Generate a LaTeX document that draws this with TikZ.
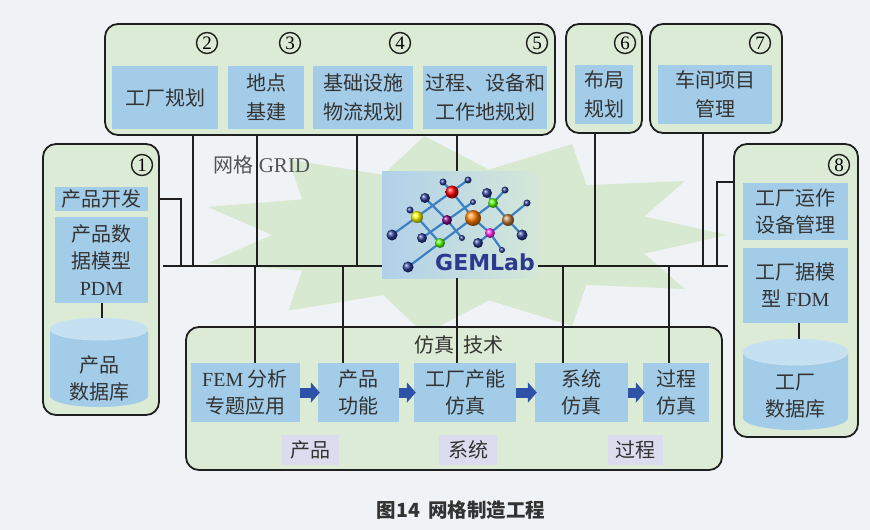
\documentclass[tikz,border=0pt]{standalone}
\usepackage{fontspec}
\setmainfont{Liberation Serif}
\newfontfamily\cjk{Noto Sans CJK SC}
\newfontfamily\logofont{DejaVu Sans}
\usetikzlibrary{arrows.meta}

\definecolor{bgc}{HTML}{F0F3F5}
\definecolor{panel}{HTML}{DCEBD5}
\definecolor{cellblue}{HTML}{A3CCE8}
\definecolor{celltop}{HTML}{C4E0F1}
\definecolor{lav}{HTML}{DCDCEF}
\definecolor{ink}{HTML}{333333}
\definecolor{wire}{HTML}{1F1F1F}
\definecolor{flow}{HTML}{2E52A8}
\definecolor{burst}{HTML}{D8E9D2}
\definecolor{stickc}{HTML}{3E80C2}
\definecolor{navy}{HTML}{2A3A95}
\definecolor{gemtext}{HTML}{2B3A8E}

\begin{document}
\begin{tikzpicture}[x=1pt,y=-1pt,
  wire/.style={draw=wire,line width=1.6pt},
  panelbox/.style={draw=wire,line width=1.8pt,fill=panel,rounded corners=13pt,inner sep=0pt},
  cell/.style={fill=cellblue,inner sep=1pt,align=center,text=ink,font=\cjk\fontsize{20}{27}\selectfont},
  topcell/.style={cell,font=\cjk\fontsize{20}{29}\selectfont,minimum height=63},
  simcell/.style={cell,minimum height=59},
  tag/.style={fill=lav,inner sep=0pt,text=ink,font=\cjk\fontsize{20}{27}\selectfont,minimum height=30},
  numring/.style={circle,draw=wire,line width=1.4pt,inner sep=0pt,minimum size=21,font=\rmfamily\fontsize{19}{19}\selectfont},
  flowarrow/.style={draw=flow,line width=10pt,-{Triangle[length=9pt,width=20pt]}},
  stick/.style={draw=stickc,line width=2.2pt,line cap=round},
  orb/.style={circle,inner sep=0pt,shading=ball,ball color=#1},
  label/.style={text=ink,inner sep=1pt,align=center,font=\cjk\fontsize{20}{27}\selectfont},
]
% canvas
\useasboundingbox (0,0) rectangle (870,530);
\fill[bgc] (0,0) rectangle (870,530);

% green starburst behind the grid
\begin{scope}[shift={(462,235)}]
\fill[burst] (0:265 and 100)
  \foreach \i [evaluate=\i as \rx using {mod(\i,2)==0 ? 265 : 190},
               evaluate=\i as \ry using {mod(\i,2)==0 ? 100 : 66},
               evaluate=\i as \a using {\i*360/22}] in {1,...,21} { -- ({\a}:{\rx} and {\ry}) } -- cycle;
\end{scope}

% panels
\node[panelbox,minimum width=450,minimum height=111] (top) at (330,79.5) {};
\node[panelbox,minimum width=76,minimum height=109] (p6) at (604,78.5) {};
\node[panelbox,minimum width=132,minimum height=109] (p7) at (716,78.5) {};
\node[panelbox,minimum width=116,minimum height=271] (p1) at (101,279.5) {};
\node[panelbox,minimum width=124,minimum height=293] (p8) at (796,290.5) {};
\node[panelbox,minimum width=536,minimum height=143] (sim) at (454,398.5) {};

% circled numbers
\node[numring] (n1) at (142,165) {1};
\node[numring] (n2) at (207,43) {2};
\node[numring] (n3) at (290,43) {3};
\node[numring] (n4) at (400,43) {4};
\node[numring] (n5) at (537,43) {5};
\node[numring] (n6) at (625,43) {6};
\node[numring] (n7) at (760,43) {7};
\node[numring] (n8) at (839,165) {8};

% planning cells
\node[topcell,minimum width=106] (c2) at (165,97.5) {工厂规划};
\node[topcell,minimum width=76] (c3) at (266,97.5) {地点\\基建};
\node[topcell,minimum width=100] (c4) at (363,97.5) {基础设施\\物流规划};
\node[topcell,minimum width=124] (c5) at (485,97.5) {过程、设备和\\工作地规划};
\node[topcell,minimum width=58,minimum height=59] (c6) at (604,94.5) {布局\\规划};
\node[topcell,minimum width=114,minimum height=59] (c7) at (715,94.5) {车间项目\\管理};

% product side
\node[cell,minimum width=93,minimum height=24] (dev) at (101.5,199) {产品开发};
\node[cell,minimum width=93,minimum height=86] (pdm) at (101.5,260) {产品数\\据模型\\{\rmfamily PDM}};
\fill[cellblue] (50,329) -- (50,396) arc[start angle=180,end angle=0,x radius=49,y radius=11] -- (148,329) -- cycle;
\draw[fill=celltop,draw=white!45!cellblue,line width=0.8pt] (99,329) ellipse [x radius=49,y radius=11];
\coordinate (db1top) at (101.5,318);
\node[label] (db1) at (99,378) {产品\\数据库};
\draw[wire,line width=2pt] (pdm.south) -- (db1top);

% factory side
\node[cell,minimum width=105,minimum height=57] (ops) at (795.5,211.5) {工厂运作\\设备管理};
\node[cell,minimum width=105,minimum height=75] (fdm) at (795.5,285.5) {工厂据模\\型 {\rmfamily FDM}};
\fill[cellblue] (743,352) -- (743,418) arc[start angle=180,end angle=0,x radius=52.5,y radius=12] -- (848,352) -- cycle;
\draw[fill=celltop,draw=white!45!cellblue,line width=0.8pt] (795.5,352) ellipse [x radius=52.5,y radius=13];
\coordinate (db2top) at (799,339);
\node[label] (db2) at (795.5,396) {工厂\\数据库};
\draw[wire,line width=2pt] (fdm.south -| db2top) -- (db2top);

% simulation chain
\node[label] (simtitle) at (459,345) {仿真\hspace{9pt}技术};
\node[simcell,minimum width=109] (s1) at (245,392.5) {{\rmfamily FEM} 分析\\专题应用};
\node[simcell,minimum width=81] (s2) at (358.5,392.5) {产品\\功能};
\node[simcell,minimum width=102] (s3) at (465,392.5) {工厂产能\\仿真};
\node[simcell,minimum width=93] (s4) at (581.5,392.5) {系统\\仿真};
\node[simcell,minimum width=66] (s5) at (676,392.5) {过程\\仿真};
\draw[flowarrow] (s1.east) -- ([xshift=2pt]s2.west);
\draw[flowarrow] (s2.east) -- ([xshift=2pt]s3.west);
\draw[flowarrow] (s3.east) -- ([xshift=2pt]s4.west);
\draw[flowarrow] (s4.east) -- ([xshift=2pt]s5.west);
\node[tag,minimum width=57] (t1) at (310.5,450) {产品};
\node[tag,minimum width=58] (t2) at (468,450) {系统};
\node[tag,minimum width=55] (t3) at (635.5,450) {过程};

% grid label
\node[text=black!68,inner sep=0pt] (gridlbl) at (262,165) {{\cjk\fontsize{20}{20}\selectfont 网格}\hspace{5pt}{\fontsize{21}{21}\selectfont GRID}};

% GEMLab logo
\node[minimum width=156,minimum height=107,inner sep=0pt,outer sep=0pt,
      left color=cellblue!80!stickc!70,right color=burst!80!celltop] (logo) at (460,224.5) {};
\coordinate (a1) at (468,180);  \coordinate (a2) at (443,182);
\coordinate (a3) at (452,192);  \coordinate (a4) at (425,198);
\coordinate (a5) at (410,210);  \coordinate (a6) at (417,217);
\coordinate (a7) at (447,220);  \coordinate (a8) at (473,218);
\coordinate (a9) at (473,202);  \coordinate (a10) at (487,193);
\coordinate (a11) at (505,190); \coordinate (a12) at (493,203);
\coordinate (a13) at (527,203); \coordinate (a14) at (508,220);
\coordinate (a15) at (522,235); \coordinate (a16) at (490,233);
\coordinate (a17) at (478,243); \coordinate (a18) at (502,250);
\coordinate (a19) at (392,235); \coordinate (a20) at (422,238);
\coordinate (a21) at (440,243); \coordinate (a22) at (462,238);
\coordinate (a23) at (408,267);
\draw[stick] (a19) -- (a1);
\draw[stick] (a20) -- (a9);
\draw[stick] (a23) -- (a12) -- (a11);
\draw[stick] (a17) -- (a13);
\draw[stick] (a2) -- (a3) -- (a8) -- (a16) -- (a18);
\draw[stick] (a4) -- (a7) -- (a22);
\draw[stick] (a5) -- (a6) -- (a21);
\draw[stick] (a10) -- (a12) -- (a14) -- (a15);
\node[orb=navy,minimum size=7] (b1) at (a1) {};
\node[orb=navy,minimum size=7] (b2) at (a2) {};
\node[orb=red,minimum size=13] (b3) at (a3) {};
\node[orb=navy,minimum size=10] (b4) at (a4) {};
\node[orb=navy,minimum size=7] (b5) at (a5) {};
\node[orb=yellow,minimum size=12] (b6) at (a6) {};
\node[orb=violet,minimum size=10] (b7) at (a7) {};
\node[orb=orange,minimum size=16] (b8) at (a8) {};
\node[orb=navy,minimum size=6] (b9) at (a9) {};
\node[orb=navy,minimum size=10] (b10) at (a10) {};
\node[orb=navy,minimum size=7] (b11) at (a11) {};
\node[orb=green!70!yellow,minimum size=10] (b12) at (a12) {};
\node[orb=navy,minimum size=7] (b13) at (a13) {};
\node[orb=brown,minimum size=12] (b14) at (a14) {};
\node[orb=navy,minimum size=11] (b15) at (a15) {};
\node[orb=magenta!80!pink,minimum size=10] (b16) at (a16) {};
\node[orb=navy,minimum size=10] (b17) at (a17) {};
\node[orb=navy,minimum size=6] (b18) at (a18) {};
\node[orb=navy,minimum size=11] (b19) at (a19) {};
\node[orb=navy,minimum size=10] (b20) at (a20) {};
\node[orb=green!70!yellow,minimum size=10] (b21) at (a21) {};
\node[orb=navy,minimum size=6] (b22) at (a22) {};
\node[orb=navy,minimum size=11] (b23) at (a23) {};
\node[font=\logofont\bfseries\fontsize{22}{22}\selectfont,text=gemtext,inner sep=0pt] (gem) at (485,262) {GEMLab};

% bus and its junctions
\coordinate (busL) at (163,266);
\coordinate (busR) at (728,266);
\coordinate (u1) at (193,266);
\coordinate (u2) at (257,266);
\coordinate (u3) at (357,266);
\coordinate (u4) at (595,266);
\coordinate (u5) at (703,266);
\coordinate (g1) at (457,171);
\coordinate (g2) at (457,278);
\coordinate (d1) at (255,266);
\coordinate (d2) at (343,266);
\coordinate (d4) at (563,266);
\coordinate (d5) at (669,266);
\coordinate (k1) at (181,199);
\coordinate (k8) at (717,182);

\draw[wire] (busL) -- (logo.west |- busL);
\draw[wire] (logo.east |- busR) -- (busR);
\draw[wire] (top.south -| u1) -- (u1);
\draw[wire] (top.south -| u2) -- (u2);
\draw[wire] (top.south -| u3) -- (u3);
\draw[wire] (top.south -| g1) -- (g1);
\draw[wire] (p6.south -| u4) -- (u4);
\draw[wire] (p7.south -| u5) -- (u5);
\draw[wire] (p1.east |- k1) -- (k1) -- (k1 |- busL);
\draw[wire] (p8.west |- k8) -- (k8) -- (k8 |- busR);
\draw[wire] (d1) -- (s1.north -| d1);
\draw[wire] (d2) -- (s2.north -| d2);
\draw[wire] (g2) -- (s3.north -| g2);
\draw[wire] (d4) -- (s4.north -| d4);
\draw[wire] (d5) -- (s5.north -| d5);

% caption
\node[font=\cjk\bfseries\fontsize{19.5}{20}\selectfont,text=black!80] (cap) at (461,510) {图14\hspace{8pt}网格制造工程};
\end{tikzpicture}
\end{document}
